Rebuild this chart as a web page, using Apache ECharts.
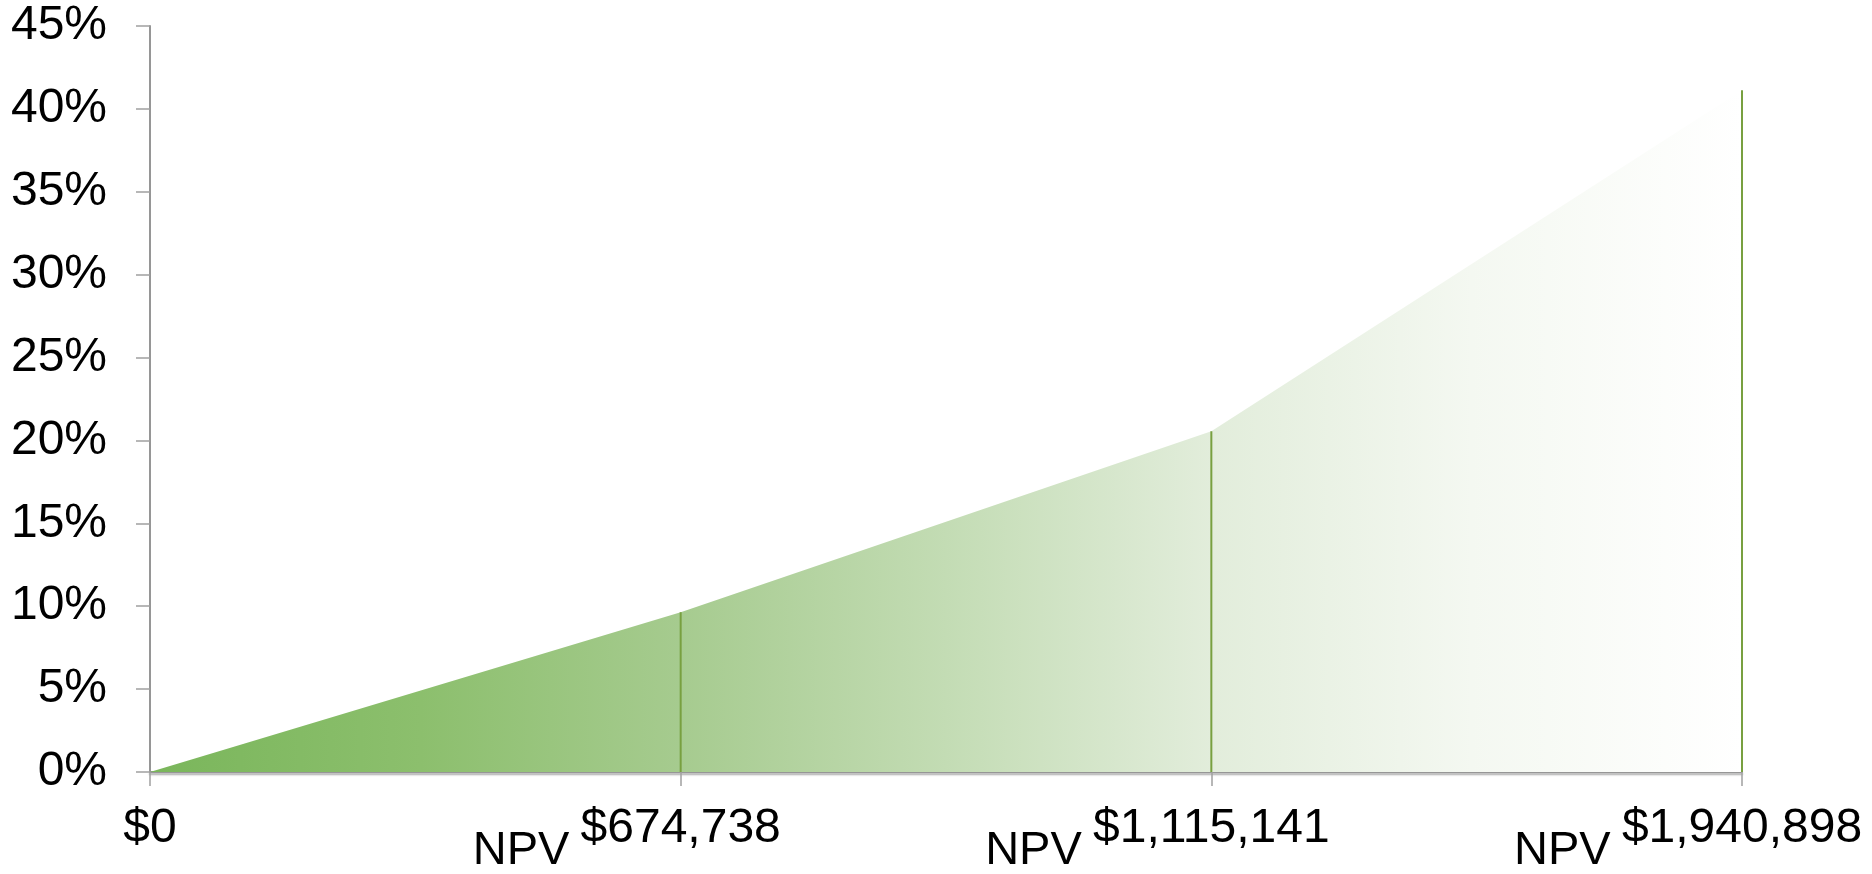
<!DOCTYPE html>
<html>
<head>
<meta charset="utf-8">
<script src="https://cdn.jsdelivr.net/npm/echarts@6/dist/echarts.min.js"></script>
<style>
html,body{margin:0;padding:0;background:#fff;}
#chart{width:1872px;height:874px;}
</style>
</head>
<body>
<div id="chart"></div>
<script>
// Data
const categories = ['$0', '$674,738', '$1,115,141', '$1,940,898'];
const prefixLabels = ['', 'NPV', 'NPV', 'NPV'];
const values = [0, 9.64, 20.56, 41.13];
const yMin = 0, yMax = 45, yStep = 5;

const chart = echarts.init(document.getElementById('chart'));
const FONT = '"Liberation Sans", Arial, sans-serif';

chart.setOption({
  animation: false,
  backgroundColor: '#ffffff',
  grid: { left: 150, right: 130, top: 26, bottom: 102, containLabel: false, outerBoundsMode: 'none' },
  xAxis: {
    type: 'category',
    data: categories,
    boundaryGap: false,
    axisLine: {
      show: true,
      lineStyle: { color: '#969696', width: 2, shadowColor: 'rgba(0,0,0,0.35)', shadowBlur: 2, shadowOffsetY: 2 }
    },
    axisTick: { show: true, length: 14, lineStyle: { color: '#a0a0a0', width: 1.5 } },
    axisLabel: {
      margin: 33,
      interval: 0,
      color: '#000',
      fontFamily: FONT,
      fontSize: 48,
      formatter: function (val, idx) {
        const p = prefixLabels[idx];
        if (!p) return '{v|' + val + '}';
        return '{n|' + p + '}{v|' + val + '}{s|}';
      },
      rich: {
        v: { fontFamily: FONT, fontSize: 48, lineHeight: 48, color: '#000', verticalAlign: 'top' },
        n: { fontFamily: FONT, fontSize: 47, lineHeight: 48, color: '#000', verticalAlign: 'top',
             width: 97, align: 'right', padding: [23, 11, 0, 0] },
        s: { width: 108, lineHeight: 48, verticalAlign: 'top' }
      }
    },
    splitLine: { show: false }
  },
  yAxis: {
    type: 'value',
    min: yMin,
    max: yMax,
    interval: yStep,
    axisLine: { show: true, lineStyle: { color: '#969696', width: 2 } },
    axisTick: { show: true, length: 14, lineStyle: { color: '#a0a0a0', width: 1.5 } },
    axisLabel: {
      margin: 43,
      color: '#000',
      fontFamily: FONT,
      fontSize: 48,
      formatter: '{value}%'
    },
    splitLine: { show: false }
  },
  series: [
    {
      type: 'line',
      data: values,
      showSymbol: false,
      lineStyle: { width: 0 },
      areaStyle: {
        opacity: 1,
        color: {
          type: 'linear', x: 0, y: 0, x2: 1, y2: 0,
          colorStops: [
            { offset: 0, color: '#7ab65b' },
            { offset: 0.17, color: '#8cbf6d' },
            { offset: 0.333, color: '#a6cb8f' },
            { offset: 0.5, color: '#c3dcb4' },
            { offset: 0.667, color: '#e2eddb' },
            { offset: 0.83, color: '#f4f8f1' },
            { offset: 1, color: '#ffffff' }
          ]
        }
      },
      z: 2
    },
    {
      type: 'bar',
      data: values,
      barWidth: 2,
      clip: false,
      itemStyle: { color: '#78a040' },
      z: 3
    }
  ]
});
</script>
</body>
</html>
